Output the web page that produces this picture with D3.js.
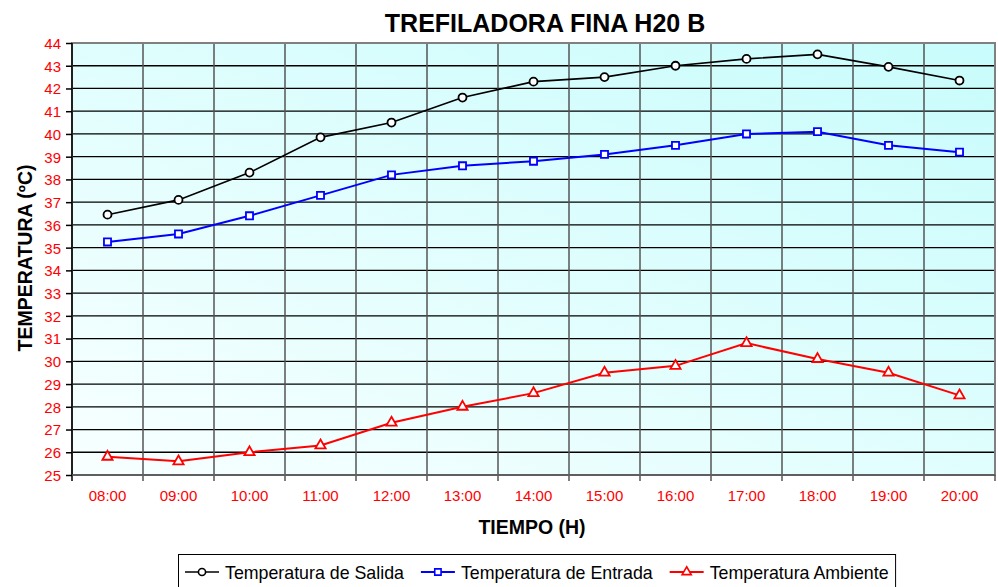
<!DOCTYPE html>
<html>
<head>
<meta charset="utf-8">
<script src="https://cdn.jsdelivr.net/npm/d3@7"></script>
<style>
  body { margin: 0; background: #fff; }
  svg { display: block; font-family: "Liberation Sans", Arial, sans-serif; }
  .tick text { fill: #ff0000; font-size: 15px; }
</style>
</head>
<body>
<div id="chart"></div>
<script>
"use strict";

// values
var hours = ["08:00", "09:00", "10:00", "11:00", "12:00", "13:00", "14:00",
             "15:00", "16:00", "17:00", "18:00", "19:00", "20:00"];
var salida = [36.45, 37.1, 38.3, 39.85, 40.5, 41.6, 42.3, 42.5, 43.0, 43.3, 43.5, 42.95, 42.35];
var entrada = [35.25, 35.6, 36.4, 37.3, 38.2, 38.6, 38.8, 39.1, 39.5, 40.0, 40.1, 39.5, 39.2];
var ambiente = [25.8, 25.6, 26.0, 26.3, 27.3, 28.0, 28.6, 29.5, 29.8, 30.8, 30.1, 29.5, 28.5];
var yTicks = [25, 26, 27, 28, 29, 30, 31, 32, 33, 34, 35, 36, 37, 38, 39, 40, 41, 42, 43, 44];
var seriesNames = ["Temperatura de Salida", "Temperatura de Entrada", "Temperatura Ambiente"];

var width = 998, height = 587;
var plot = {left: 72, right: 995, top: 43, bottom: 475};

var series = [
    {name: seriesNames[0], values: salida, color: "#000000", symbol: d3.symbolCircle, size: 50, lw: 1.6},
    {name: seriesNames[1], values: entrada, color: "#0000ff", symbol: d3.symbolSquare, size: 50, lw: 2},
    {name: seriesNames[2], values: ambiente, color: "#ff0000", symbol: d3.symbolTriangle, size: 45, lw: 2}
];

var svg = d3.select("#chart").append("svg")
    .attr("width", width)
    .attr("height", height);

var x = d3.scaleBand().domain(hours).range([plot.left, plot.right]);
var y = d3.scaleLinear().domain([25, 44]).range([plot.bottom, plot.top]);

// background gradient, paler in the lower left
var grad = svg.append("defs").append("linearGradient")
    .attr("id", "bg")
    .attr("x1", "0%").attr("y1", "100%")
    .attr("x2", "100%").attr("y2", "0%");
grad.append("stop").attr("offset", "0%").attr("stop-color", "#f8ffff");
grad.append("stop").attr("offset", "100%").attr("stop-color", "#c8fcfc");

svg.append("rect")
    .attr("x", plot.left).attr("y", plot.top)
    .attr("width", plot.right - plot.left)
    .attr("height", plot.bottom - plot.top)
    .attr("fill", "url(#bg)");

// horizontal grid
svg.append("g").selectAll("line")
    .data(yTicks.slice(1, -1))
    .join("line")
    .attr("x1", plot.left).attr("x2", plot.right)
    .attr("y1", function(d) { return y(d); })
    .attr("y2", function(d) { return y(d); })
    .attr("stroke", "#000")
    .attr("stroke-width", 1.3);

// vertical grid between categories, ticks hang below the axis
var bounds = hours.slice(1).map(function(h) { return x(h); });
svg.append("g").selectAll("line")
    .data(bounds)
    .join("line")
    .attr("x1", function(d) { return d; })
    .attr("x2", function(d) { return d; })
    .attr("y1", plot.top).attr("y2", plot.bottom + 6)
    .attr("stroke", "#555")
    .attr("stroke-width", 1.5);

// plot frame
svg.append("rect")
    .attr("x", plot.left).attr("y", plot.top)
    .attr("width", plot.right - plot.left)
    .attr("height", plot.bottom - plot.top)
    .attr("fill", "none")
    .attr("stroke", "#808080")
    .attr("stroke-width", 2);
svg.append("line")
    .attr("x1", plot.left).attr("x2", plot.left)
    .attr("y1", plot.top).attr("y2", plot.bottom + 6)
    .attr("stroke", "#000").attr("stroke-width", 1.5);
svg.append("line")
    .attr("x1", plot.left).attr("x2", plot.right)
    .attr("y1", plot.bottom).attr("y2", plot.bottom)
    .attr("stroke", "#555").attr("stroke-width", 1.5);
svg.append("line")
    .attr("x1", plot.right).attr("x2", plot.right)
    .attr("y1", plot.bottom).attr("y2", plot.bottom + 6)
    .attr("stroke", "#555").attr("stroke-width", 1.5);

// axes
var yAxis = svg.append("g")
    .attr("transform", "translate(" + plot.left + ",0)")
    .call(d3.axisLeft(y).tickValues(yTicks).tickSize(6).tickPadding(5));
yAxis.select(".domain").remove();
yAxis.selectAll(".tick line").attr("stroke", "#000").attr("stroke-width", 1.5);
yAxis.selectAll(".tick text").attr("dy", "0.36em");

var xAxis = svg.append("g")
    .attr("transform", "translate(0," + plot.bottom + ")")
    .call(d3.axisBottom(x).tickSize(0).tickPadding(15));
xAxis.select(".domain").remove();

// series lines and markers
var line = d3.line()
    .x(function(d, i) { return x(hours[i]) + x.bandwidth() / 2; })
    .y(function(d) { return y(d); });

series.forEach(function(s) {
    svg.append("path")
        .datum(s.values)
        .attr("d", line)
        .attr("fill", "none")
        .attr("stroke", s.color)
        .attr("stroke-width", s.lw);
    svg.append("g").selectAll("path")
        .data(s.values)
        .join("path")
        .attr("d", d3.symbol().type(s.symbol).size(s.size))
        .attr("transform", function(d, i) {
            return "translate(" + (x(hours[i]) + x.bandwidth() / 2) + "," + y(d) + ")";
        })
        .attr("fill", "#fff")
        .attr("stroke", s.color)
        .attr("stroke-width", 1.8);
});

// titles
svg.append("text")
    .attr("x", 545).attr("y", 32)
    .attr("text-anchor", "middle")
    .style("font-size", "25px").style("font-weight", "bold")
    .text("TREFILADORA FINA H20 B");

svg.append("text")
    .attr("x", 532).attr("y", 534)
    .attr("text-anchor", "middle")
    .style("font-size", "19.5px").style("font-weight", "bold")
    .text("TIEMPO (H)");

svg.append("text")
    .attr("transform", "translate(32,258) rotate(-90)")
    .attr("text-anchor", "middle")
    .style("font-size", "19.5px").style("font-weight", "bold")
    .text("TEMPERATURA (ºC)");

// legend
var legend = svg.append("g");
var box = legend.append("rect")
    .attr("x", 178.5).attr("y", 554.5)
    .attr("height", 50)
    .attr("fill", "#fff")
    .attr("stroke", "#000")
    .attr("stroke-width", 1);

var lx = 185, ly = 572;
series.forEach(function(s) {
    legend.append("line")
        .attr("x1", lx).attr("x2", lx + 34)
        .attr("y1", ly).attr("y2", ly)
        .attr("stroke", s.color).attr("stroke-width", s.lw);
    legend.append("path")
        .attr("d", d3.symbol().type(s.symbol).size(s.size * 0.8))
        .attr("transform", "translate(" + (lx + 17) + "," + ly + ")")
        .attr("fill", "#fff")
        .attr("stroke", s.color)
        .attr("stroke-width", 1.6);
    var t = legend.append("text")
        .attr("x", lx + 40).attr("y", ly + 6.5)
        .style("font-size", "17.8px")
        .text(s.name);
    lx = lx + 40 + t.node().getComputedTextLength() + 17;
});
box.attr("width", lx - 178.5 - 10);
</script>
</body>
</html>
